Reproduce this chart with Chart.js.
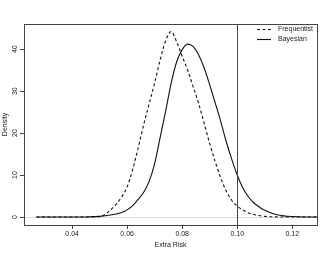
<!DOCTYPE html>
<html>
<head>
<meta charset="utf-8">
<script src="https://cdn.jsdelivr.net/npm/chart.js@4/dist/chart.umd.min.js"></script>
<style>body{margin:0;background:#fff}</style>
</head>
<body>
<canvas id="densityCanvas" width="330" height="255"></canvas>
<script>
// data
const extraRisk = [0.027, 0.035, 0.045, 0.050, 0.054, 0.058, 0.060, 0.062, 0.064, 0.066, 0.068, 0.070,
    0.072, 0.074, 0.076, 0.078, 0.080, 0.082, 0.084, 0.086, 0.088, 0.090, 0.092, 0.094, 0.096, 0.098,
    0.100, 0.102, 0.104, 0.106, 0.108, 0.110, 0.114, 0.118, 0.122, 0.129];
const frequentistDensity = [0, 0, 0, 0.1, 1.7, 4.8, 7.2, 11.3, 16.5, 22.0, 27.0, 32.0,
    37.5, 42.0, 44.2, 41.7, 38.3, 35.0, 31.0, 27.0, 22.3, 17.5, 13.2, 9.3, 6.2, 4.0,
    2.6, 1.7, 1.0, 0.6, 0.35, 0.15, 0.03, 0, 0, 0];
const bayesianDensity = [0, 0, 0.02, 0.15, 0.5, 1.1, 1.7, 2.7, 4.2, 5.9, 8.5, 12.8,
    19.0, 25.3, 31.9, 37.0, 39.9, 41.2, 40.6, 38.6, 35.5, 31.5, 27.2, 22.8, 18.0, 13.8,
    10.0, 7.0, 4.9, 3.4, 2.4, 1.6, 0.6, 0.2, 0.05, 0];
const seriesLabels = ['Frequentist', 'Bayesian'];
const xTicks = [0.04, 0.06, 0.08, 0.10, 0.12];
const yTicks = [0, 10, 20, 30, 40];
const cutoffRisk = 0.10;
const xTitle = 'Extra Risk';
const yTitle = 'Density';

const FONT = '7px "Liberation Sans", Arial, sans-serif';

function toPoints(ys) {
    return extraRisk.map((x, i) => ({ x: x, y: ys[i] }));
}

// R 风格的边框、刻度文字、图例
const rStyle = {
    id: 'rStyle',
    beforeDatasetsDraw(chart) {
        const { ctx, chartArea: a, scales: { y } } = chart;
        const y0 = Math.round(y.getPixelForValue(0)) + 0.5;
        ctx.save();
        ctx.strokeStyle = '#dcdcdc';
        ctx.lineWidth = 1;
        ctx.beginPath();
        ctx.moveTo(a.left, y0);
        ctx.lineTo(a.right, y0);
        ctx.stroke();
        ctx.restore();
    },
    afterDraw(chart) {
        const { ctx, chartArea: a, scales: { x, y } } = chart;
        ctx.save();
        ctx.strokeStyle = '#444';
        ctx.lineWidth = 1;
        // cutoff line
        const xc = Math.round(x.getPixelForValue(cutoffRisk)) + 0.5;
        ctx.beginPath();
        ctx.moveTo(xc, a.top);
        ctx.lineTo(xc, a.bottom);
        ctx.stroke();
        // box
        ctx.strokeRect(Math.round(a.left) + 0.5, Math.round(a.top) + 0.5,
            Math.round(a.right - a.left), Math.round(a.bottom - a.top));

        ctx.fillStyle = '#222';
        ctx.font = FONT;
        ctx.textAlign = 'center';
        ctx.textBaseline = 'middle';
        xTicks.forEach(v => ctx.fillText(v.toFixed(2), x.getPixelForValue(v), a.bottom + 9));
        yTicks.forEach(v => {
            ctx.save();
            ctx.translate(a.left - 9, y.getPixelForValue(v));
            ctx.rotate(-Math.PI / 2);
            ctx.fillText(String(v), 0, 0);
            ctx.restore();
        });
        ctx.fillText(xTitle, (a.left + a.right) / 2, a.bottom + 20);
        ctx.save();
        ctx.translate(5, (a.top + a.bottom) / 2);
        ctx.rotate(-Math.PI / 2);
        ctx.fillText(yTitle, 0, 0);
        ctx.restore();

        // legend
        ctx.textAlign = 'left';
        chart.data.datasets.forEach((ds, i) => {
            const ly = a.top + 5.5 + i * 10;
            ctx.strokeStyle = '#111';
            ctx.lineWidth = 1.1;
            ctx.setLineDash(ds.borderDash || []);
            ctx.beginPath();
            ctx.moveTo(a.right - 60, ly);
            ctx.lineTo(a.right - 46, ly);
            ctx.stroke();
            ctx.setLineDash([]);
            ctx.fillText(ds.label, a.right - 39, ly);
        });
        ctx.restore();
    }
};

new Chart(document.getElementById('densityCanvas'), {
    type: 'scatter',
    data: {
        datasets: [{
            label: seriesLabels[0],
            data: toPoints(frequentistDensity),
            showLine: true,
            borderColor: '#111',
            borderWidth: 1.1,
            borderDash: [3, 2.5],
            pointRadius: 0,
            cubicInterpolationMode: 'monotone'
        }, {
            label: seriesLabels[1],
            data: toPoints(bayesianDensity),
            showLine: true,
            borderColor: '#111',
            borderWidth: 1.1,
            pointRadius: 0,
            cubicInterpolationMode: 'monotone'
        }]
    },
    options: {
        responsive: false,
        animation: false,
        layout: { padding: { top: 24, right: 13, left: 0, bottom: 0 } },
        plugins: { legend: { display: false }, tooltip: { enabled: false } },
        scales: {
            x: {
                type: 'linear',
                min: 0.0225,
                max: 0.129,
                afterBuildTicks: s => { s.ticks = xTicks.map(v => ({ value: v })); },
                afterFit: s => { s.height = 30; },
                ticks: { display: false },
                grid: { drawOnChartArea: false, drawTicks: true, tickLength: 4, color: '#444' },
                border: { display: false }
            },
            y: {
                min: -1.9,
                max: 46,
                afterBuildTicks: s => { s.ticks = yTicks.map(v => ({ value: v })); },
                afterFit: s => { s.width = 24; },
                ticks: { display: false },
                grid: { drawOnChartArea: false, drawTicks: true, tickLength: 4, color: '#444' },
                border: { display: false }
            }
        }
    },
    plugins: [rStyle]
});
</script>
</body>
</html>
